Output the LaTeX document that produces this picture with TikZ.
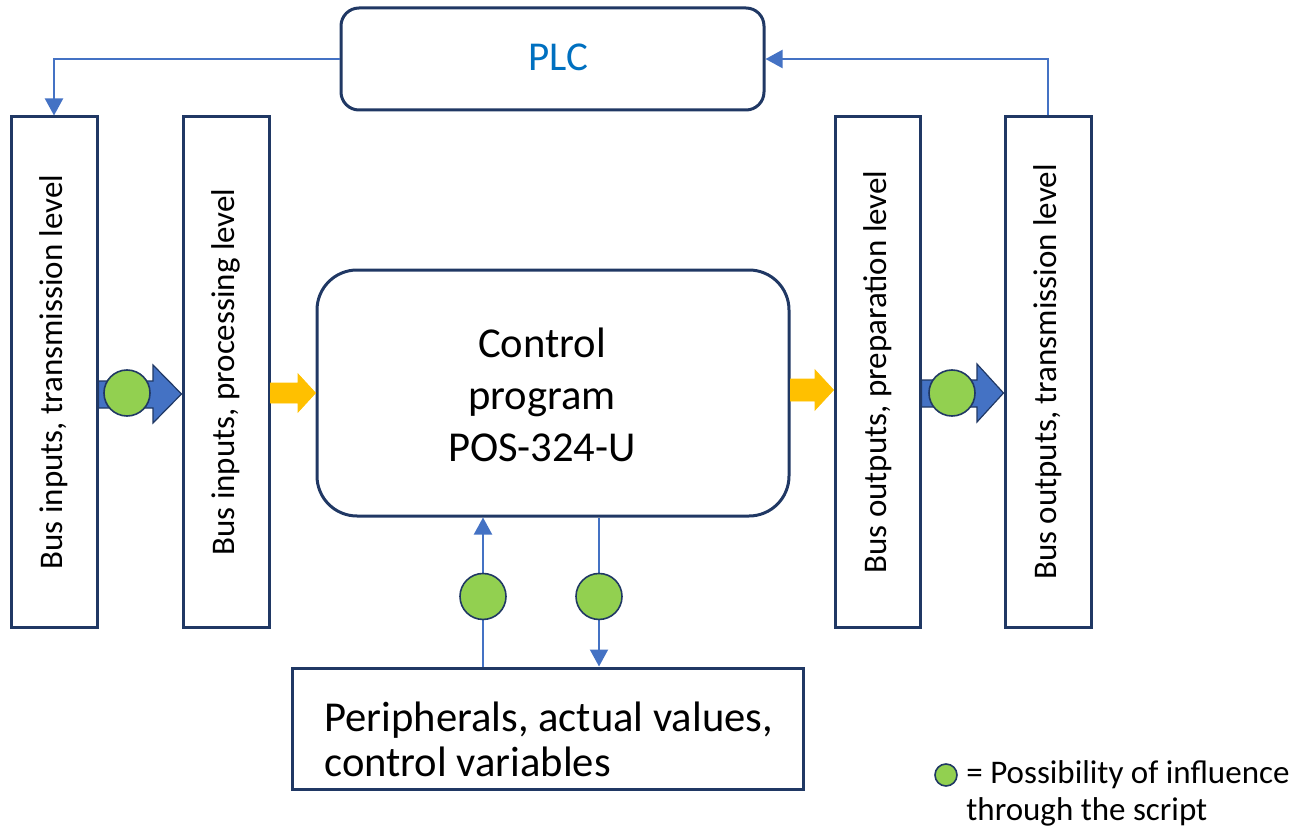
\documentclass[tikz,border=0pt]{standalone}
\usepackage{fontspec}
\setmainfont{Carlito}
\usetikzlibrary{arrows.meta,positioning,calc}

\definecolor{boxline}{RGB}{32,56,100}
\definecolor{connblue}{RGB}{68,114,196}
\definecolor{plcblue}{RGB}{0,112,192}
\definecolor{inflgreen}{RGB}{146,208,80}
\definecolor{arrowyellow}{RGB}{255,192,0}

\tikzset{
  levelbox/.style={draw=boxline, line width=1.5pt, minimum width=43pt, minimum height=255pt, inner sep=0pt},
  leveltext/.style={rotate=90, font=\fontsize{16.5}{20}\selectfont},
  conn/.style={draw=connblue, line width=1pt, -{Triangle[length=8.5pt,width=9pt]}},
  infl/.style={circle, draw=boxline, line width=0.8pt, fill=inflgreen, minimum size=23pt, inner sep=0pt},
  bluearr/.style={draw=boxline, line width=0.6pt, fill=connblue},
  yellowarr/.style={draw=arrowyellow, line width=0.4pt, fill=arrowyellow},
}

\begin{document}
\begin{tikzpicture}[x=0.5pt,y=-0.5pt]
\useasboundingbox (0,0) rectangle (1308,829);

% PLC and main program
\node[draw=boxline, line width=1.5pt, rounded corners=9pt, minimum width=211.5pt, minimum height=51pt] (plc) at (552.5,59) {};
\node[text=plcblue, font=\fontsize{20.5}{24}\selectfont] (plctext) at (558,57) {PLC};
\node[draw=boxline, line width=1.5pt, rounded corners=20pt, minimum width=236pt, minimum height=123pt] (ctrl) at (553,393) {};
\node[align=center, font=\fontsize{21.3}{26}\selectfont] (ctrltext) at (542,395) {Control\\program\\POS-324-U};

% bus level boxes
\node[levelbox] (ti) at (54,372) {};
\node[levelbox] (pi) at (226,372) {};
\node[levelbox, minimum width=42.5pt] (po) at (877.5,372) {};
\node[levelbox] (to) at (1048,372) {};
\node[leveltext] (titext) at (ti.center) {Bus inputs, transmission level};
\node[leveltext] (pitext) at (pi.center) {Bus inputs, processing level};
\node[leveltext] (potext) at (po.center) {Bus outputs, preparation level};
\node[leveltext] (totext) at (to.center) {Bus outputs, transmission level};

% peripherals
\node[draw=boxline, line width=1.5pt, minimum width=255.5pt, minimum height=60.5pt] (peri) at (547.5,728.5) {};
\node[anchor=west, align=left, inner sep=0pt, font=\fontsize{21.3}{22.5}\selectfont] (peritext) at (324,739.5) {Peripherals, actual values,\\control variables};

% PLC loop
\draw[conn] (plc.west) -| (ti.north);
\draw[conn] (to.north) |- (plc.east);

% block arrows between the levels
\draw[bluearr] (ti.east |- 0,381) -- (153,381) -- (153,365) -- (pi.west |- 0,394) -- (153,423) -- (153,408) -- (ti.east |- 0,408) -- cycle;
\draw[yellowarr] (pi.east |- 0,383) -- (298,383) -- (298,374) -- (ctrl.west |- 0,393) -- (298,412) -- (298,403) -- (pi.east |- 0,403) -- cycle;
\draw[yellowarr] (ctrl.east |- 0,379) -- (815,379) -- (815,370) -- (po.west |- 0,390) -- (815,410) -- (815,401) -- (ctrl.east |- 0,401) -- cycle;
\draw[bluearr] (po.east |- 0,380) -- (977,380) -- (977,364) -- (to.west |- 0,393) -- (977,422) -- (977,407) -- (po.east |- 0,407) -- cycle;
\node[infl] (i1) at (127,393) {};
\node[infl] (i2) at (952,393) {};

% program <-> peripherals
\draw[conn] ($(peri.north)+(-64.5,0)$) -- ($(ctrl.south)+(-70,0)$) node[infl, pos=.47] (i3) {};
\draw[conn] ($(ctrl.south)+(46,0)$) -- ($(peri.north)+(51.5,0)$) node[infl, pos=.53] (i4) {};

% legend
\node[infl, minimum size=11pt] (lgd) at (946,775) {};
\node[anchor=west, align=left, inner sep=0pt, font=\fontsize{16.5}{18.5}\selectfont] (lgdtext) at (966,793.5) {= Possibility of influence\\through the script};
\end{tikzpicture}
\end{document}
